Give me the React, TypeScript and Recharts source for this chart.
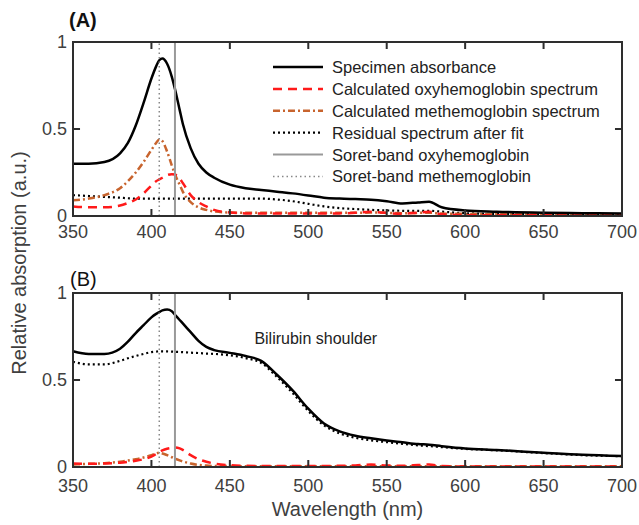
import React from 'react';
import { LineChart, Line, XAxis, YAxis, ReferenceLine, ReferenceDot, Legend } from 'recharts';

// ---------- data ----------
const WAVELENGTHS = [350, 360, 370, 380, 385, 390, 395, 400, 403, 405, 407, 410, 413, 415, 418, 420, 425, 430, 435, 440, 450, 460, 470, 480, 490, 500, 510, 520, 530, 540, 550, 560, 570, 577, 585, 600, 620, 650, 675, 700];

const specimenA = [0.30, 0.30, 0.31, 0.36, 0.42, 0.52, 0.65, 0.79, 0.86, 0.895, 0.905, 0.875, 0.80, 0.73, 0.61, 0.53, 0.39, 0.30, 0.25, 0.22, 0.18, 0.16, 0.15, 0.14, 0.13, 0.118, 0.105, 0.10, 0.097, 0.094, 0.085, 0.072, 0.078, 0.082, 0.05, 0.032, 0.025, 0.019, 0.016, 0.014];
const oxyA = [0.055, 0.05, 0.05, 0.06, 0.075, 0.095, 0.13, 0.175, 0.20, 0.21, 0.22, 0.235, 0.24, 0.238, 0.215, 0.19, 0.12, 0.08, 0.055, 0.035, 0.02, 0.015, 0.015, 0.015, 0.014, 0.014, 0.014, 0.015, 0.018, 0.024, 0.017, 0.013, 0.02, 0.024, 0.01, 0.005, 0.004, 0.004, 0.003, 0.003];
const metA = [0.09, 0.10, 0.12, 0.16, 0.20, 0.25, 0.31, 0.38, 0.42, 0.44, 0.43, 0.37, 0.29, 0.24, 0.18, 0.14, 0.08, 0.05, 0.035, 0.026, 0.02, 0.019, 0.019, 0.018, 0.018, 0.018, 0.018, 0.018, 0.018, 0.02, 0.018, 0.016, 0.018, 0.019, 0.014, 0.012, 0.011, 0.01, 0.01, 0.01];
const residualA = [0.12, 0.115, 0.11, 0.105, 0.102, 0.10, 0.10, 0.10, 0.10, 0.10, 0.10, 0.10, 0.10, 0.10, 0.10, 0.10, 0.10, 0.10, 0.10, 0.10, 0.10, 0.10, 0.10, 0.095, 0.085, 0.07, 0.055, 0.045, 0.04, 0.035, 0.032, 0.03, 0.03, 0.03, 0.025, 0.016, 0.012, 0.01, 0.01, 0.01];

const specimenB = [0.665, 0.65, 0.65, 0.68, 0.72, 0.77, 0.815, 0.86, 0.88, 0.89, 0.90, 0.905, 0.895, 0.875, 0.845, 0.825, 0.775, 0.725, 0.69, 0.672, 0.656, 0.638, 0.61, 0.53, 0.44, 0.335, 0.25, 0.205, 0.18, 0.165, 0.152, 0.142, 0.132, 0.128, 0.12, 0.107, 0.098, 0.082, 0.07, 0.063];
const oxyB = [0.02, 0.018, 0.02, 0.025, 0.03, 0.036, 0.045, 0.06, 0.075, 0.085, 0.095, 0.105, 0.11, 0.112, 0.107, 0.098, 0.068, 0.045, 0.03, 0.02, 0.01, 0.007, 0.006, 0.006, 0.006, 0.006, 0.006, 0.007, 0.009, 0.014, 0.009, 0.007, 0.011, 0.014, 0.006, 0.003, 0.003, 0.003, 0.003, 0.003];
const metB = [0.015, 0.018, 0.022, 0.03, 0.037, 0.045, 0.055, 0.068, 0.078, 0.082, 0.078, 0.068, 0.056, 0.048, 0.038, 0.032, 0.02, 0.012, 0.008, 0.006, 0.005, 0.004, 0.004, 0.004, 0.004, 0.004, 0.004, 0.004, 0.004, 0.004, 0.004, 0.004, 0.004, 0.004, 0.004, 0.004, 0.004, 0.004, 0.004, 0.004];
const residualB = [0.605, 0.59, 0.59, 0.61, 0.625, 0.638, 0.65, 0.66, 0.663, 0.665, 0.665, 0.664, 0.663, 0.662, 0.661, 0.66, 0.657, 0.655, 0.652, 0.65, 0.642, 0.626, 0.598, 0.518, 0.425, 0.322, 0.24, 0.193, 0.168, 0.153, 0.143, 0.133, 0.124, 0.12, 0.114, 0.104, 0.096, 0.08, 0.068, 0.062];

const SORET_OXY = 415;
const SORET_MET = 405;

const X_DOMAIN: [number, number] = [350, 700];
const Y_DOMAIN: [number, number] = [0, 1];
const X_TICKS = [350, 400, 450, 500, 550, 600, 650, 700];
const Y_TICKS = [0, 0.5, 1];

const LEGEND_LABELS = [
  'Specimen absorbance',
  'Calculated oxyhemoglobin spectrum',
  'Calculated methemoglobin spectrum',
  'Residual spectrum after fit',
  'Soret-band oxyhemoglobin',
  'Soret-band methemoglobin',
];

const ANNOTATION_B = { text: 'Bilirubin shoulder', wl: 465, value: 0.74 };

// ---------- styles ----------
const FONT = '"Liberation Sans", Arial, Helvetica, sans-serif';
const TEXT_COLOR = '#404040';
const ORANGE = '#c8642e';
const RED = '#ff1a1a';
// inward tick length as a fraction of each axis span (~7px)
const TICK_FRAC_Y = 0.04;
const TICK_FRAC_X = 0.0128;

const LEGEND_STYLE = [
  { stroke: '#000', width: 2.5, dash: undefined as string | undefined },
  { stroke: RED, width: 2.5, dash: '9 6' },
  { stroke: ORANGE, width: 2.5, dash: '7 3 2 3' },
  { stroke: '#000', width: 2.2, dash: '2 3' },
  { stroke: '#999', width: 2, dash: undefined },
  { stroke: '#888', width: 1.5, dash: '1.5 3' },
];

function buildRows(spec: number[], oxy: number[], met: number[], res: number[]) {
  return WAVELENGTHS.map((wl, i) => ({ wl, spec: spec[i], oxy: oxy[i], met: met[i], res: res[i] }));
}

const rowsA = buildRows(specimenA, oxyA, metA, residualA);
const rowsB = buildRows(specimenB, oxyB, metB, residualB);

// axes box (outline of the domain) and inward tick marks, expressed in data units
function buildFrame() {
  const [x0, x1] = X_DOMAIN;
  const [y0, y1] = Y_DOMAIN;
  return [
    { wl: x0, fy: y0 },
    { wl: x1, fy: y0 },
    { wl: x1, fy: y1 },
    { wl: x0, fy: y1 },
    { wl: x0, fy: y0 },
  ];
}
function buildTicks() {
  const [x0, x1] = X_DOMAIN;
  const [y0, y1] = Y_DOMAIN;
  const ty = (y1 - y0) * TICK_FRAC_Y;
  const tx = (x1 - x0) * TICK_FRAC_X;
  const pts: { wl: number; fy: number | null }[] = [];
  X_TICKS.forEach((t) => {
    pts.push({ wl: t, fy: y0 }, { wl: t, fy: y0 + ty }, { wl: t, fy: null });
    pts.push({ wl: t, fy: y1 }, { wl: t, fy: y1 - ty }, { wl: t, fy: null });
  });
  Y_TICKS.forEach((t) => {
    pts.push({ wl: x0, fy: t }, { wl: x0 + tx, fy: t }, { wl: x0 + tx, fy: null });
    pts.push({ wl: x1, fy: t }, { wl: x1 - tx, fy: t }, { wl: x1 - tx, fy: null });
  });
  return pts;
}
const FRAME = buildFrame();
const TICK_MARKS = buildTicks();

const LegendBox = () => (
  <svg width={370} height={135} style={{ display: 'block' }}>
    {LEGEND_LABELS.map((label, i) => {
      const y = 11 + i * 21.9;
      const s = LEGEND_STYLE[i];
      return (
        <g key={label}>
          <line x1={5} x2={55} y1={y} y2={y} stroke={s.stroke} strokeWidth={s.width} strokeDasharray={s.dash} />
          <text x={64} y={y + 5.9} fontSize={16.5} fontFamily={FONT} fill="#222">{label}</text>
        </g>
      );
    })}
  </svg>
);

const tickStyle = { fill: TEXT_COLOR, fontSize: 18, fontFamily: FONT };

function Panel(props: { rows: any[]; height: number; marginTop: number; xAxisHeight: number; xTickMargin: number; legend?: boolean; xLabel?: boolean; annotation?: boolean }) {
  const { rows, height, marginTop, xAxisHeight, xTickMargin, legend, xLabel, annotation } = props;
  return (
    <LineChart width={639} height={height} data={rows} margin={{ top: marginTop, right: 17, left: 0, bottom: 0 }}>
      <XAxis
        dataKey="wl"
        type="number"
        domain={X_DOMAIN}
        ticks={X_TICKS}
        height={xAxisHeight}
        axisLine={false}
        tickLine={false}
        tickSize={0}
        tickMargin={xTickMargin}
        tick={tickStyle}
        interval={0}
        allowDuplicatedCategory
        label={xLabel ? { value: 'Wavelength (nm)', position: 'insideBottom', offset: 9, fill: TEXT_COLOR, fontSize: 20, fontFamily: FONT } : undefined}
      />
      <YAxis
        type="number"
        domain={Y_DOMAIN}
        ticks={Y_TICKS}
        width={73}
        axisLine={false}
        tickLine={false}
        tickSize={0}
        tickMargin={6}
        tick={tickStyle}
        tickFormatter={(v: number) => String(v)}
        interval={0}
      />
      <Line dataKey="res" type="monotone" stroke="#000" strokeWidth={2.2} strokeDasharray="2 3" dot={false} isAnimationActive={false} />
      <Line dataKey="met" type="monotone" stroke={ORANGE} strokeWidth={2.5} strokeDasharray="7 3 2 3" dot={false} isAnimationActive={false} />
      <Line dataKey="oxy" type="monotone" stroke={RED} strokeWidth={2.5} strokeDasharray="9 6" dot={false} isAnimationActive={false} />
      <Line dataKey="spec" type="monotone" stroke="#000" strokeWidth={2.5} dot={false} isAnimationActive={false} />
      <ReferenceLine x={SORET_OXY} stroke="#999" strokeWidth={2} />
      <ReferenceLine x={SORET_MET} stroke="#888" strokeWidth={1.5} strokeDasharray="1.5 3" />
      <Line data={TICK_MARKS} dataKey="fy" type="linear" stroke="#2e2e2e" strokeWidth={2} dot={false} activeDot={false} legendType="none" isAnimationActive={false} />
      <Line data={FRAME} dataKey="fy" type="linear" stroke="#2e2e2e" strokeWidth={2} strokeLinecap="square" dot={false} activeDot={false} legendType="none" isAnimationActive={false} />
      {annotation && (
        <ReferenceDot
          x={ANNOTATION_B.wl}
          y={ANNOTATION_B.value}
          r={1}
          fill="none"
          stroke="none"
          label={{ value: ANNOTATION_B.text, position: 'right', offset: 0, fill: '#222', fontSize: 16, fontFamily: FONT }}
        />
      )}
      {legend && (
        <Legend
          layout="vertical"
          align="center"
          verticalAlign="middle"
          content={() => <LegendBox />}
          wrapperStyle={{ position: 'absolute', left: 268, top: 56, width: 370, height: 135 }}
        />
      )}
    </LineChart>
  );
}

export default function App() {
  return (
    <div style={{ position: 'absolute', left: 0, top: 0, width: 639, height: 525, background: '#fff', fontFamily: FONT }}>
      <div style={{ position: 'absolute', left: 0, top: 0 }}>
        <Panel rows={rowsA} height={245} marginTop={42} xAxisHeight={29} xTickMargin={9} legend />
      </div>
      <div style={{ position: 'absolute', left: 0, top: 250 }}>
        <Panel rows={rowsB} height={275} marginTop={43} xAxisHeight={58} xTickMargin={12} xLabel annotation />
      </div>
      <div style={{ position: 'absolute', left: 69, top: 8, fontSize: 20, fontWeight: 'bold', color: '#111', lineHeight: '24px' }}>(A)</div>
      <div style={{ position: 'absolute', left: 70, top: 267, fontSize: 20, color: '#111', lineHeight: '24px' }}>(B)</div>
      <div
        style={{
          position: 'absolute',
          left: 19,
          top: 263,
          transform: 'translate(-50%, -50%) rotate(-90deg)',
          whiteSpace: 'nowrap',
          fontSize: 20,
          color: TEXT_COLOR,
          lineHeight: '24px',
        }}
      >
        Relative absorption (a.u.)
      </div>
    </div>
  );
}
